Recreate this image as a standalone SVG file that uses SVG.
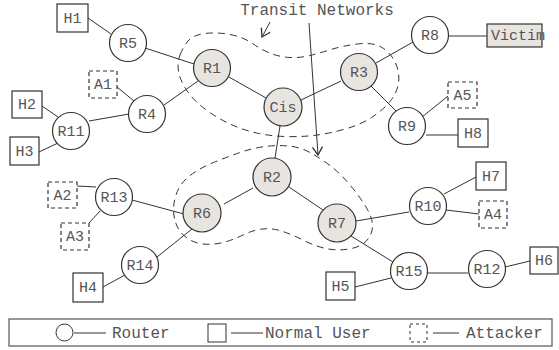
<svg xmlns="http://www.w3.org/2000/svg" width="559" height="350" viewBox="0 0 559 350">
<defs>
<style>
.r{fill:#fff;stroke:#333;stroke-width:1.2}
.t{fill:#e8e4e0;stroke:#333;stroke-width:1.2}
.h{fill:#fff;stroke:#333;stroke-width:1.2}
.a{fill:#fff;stroke:#333;stroke-width:1.2;stroke-dasharray:4,3}
.v{fill:#e8e4e0;stroke:#333;stroke-width:1.2}
.l{stroke:#333;stroke-width:1;fill:none}
.b{stroke:#333;stroke-width:1;fill:none;stroke-dasharray:7,5}
text{font-family:"Liberation Mono","Courier New",monospace;fill:#555;text-anchor:middle}
.n{font-size:15px}
.g{font-size:16px}
</style>
<marker id="ah" markerWidth="12" markerHeight="12" refX="10" refY="6" orient="auto" markerUnits="userSpaceOnUse">
<path d="M2,1 L10,6 L2,11" fill="none" stroke="#333" stroke-width="1.3"/>
</marker>
</defs>
<rect width="559" height="350" fill="#fff"/>
<g id="blobs">
<path class="b" d="M180,55 Q183,47 188,41 Q193,35 205,33.5 Q217,32 230,34.5 Q243,37 252.5,43.5 Q262,50 271,53.5 Q280,57 290,57.5 Q300,58 310,55.5 Q320,53 331,49.5 Q342,46 357.5,44 Q373,42 382,47.5 Q391,53 395.5,63 Q400,73 398.5,83 Q397,93 390,101.5 Q383,110 371.5,117.5 Q360,125 343.5,129.5 Q327,134 313.5,135.5 Q300,137 285,136.5 Q270,136 256.5,133 Q243,130 230,124 Q217,118 205,109 Q193,100 186.5,90 Q180,80 178.5,71.5 Q177,63 180,55 Z"/>
<path class="b" d="M174.5,218.5 Q172,207 176,195 Q180,183 190,175.5 Q200,168 213.5,162.5 Q227,157 240,152.5 Q253,148 265,146.5 Q277,145 288.5,146 Q300,147 310,152.5 Q320,158 330,165.5 Q340,173 350,185 Q360,197 366,207 Q372,217 372.5,224.5 Q373,232 368,239 Q363,246 351.5,248.5 Q340,251 328.5,249 Q317,247 305,241 Q293,235 283,231.5 Q273,228 263,229 Q253,230 243,235 Q233,240 223,242.5 Q213,245 203,244 Q193,243 185,236.5 Q177,230 174.5,218.5 Z"/>
</g>
<g id="title">
<text class="g" x="317" y="15">Transit Networks</text>
<line class="l" x1="270" y1="22" x2="262" y2="37" marker-end="url(#ah)"/>
<line class="l" x1="309" y1="23" x2="318" y2="155" marker-end="url(#ah)"/>
</g>
<g id="connectors">
<line class="l" x1="88" y1="18" x2="111" y2="34"/>
<line class="l" x1="145" y1="48" x2="194" y2="64"/>
<line class="l" x1="229" y1="77" x2="266" y2="98"/>
<line class="l" x1="117" y1="87" x2="134" y2="101"/>
<line class="l" x1="164" y1="105" x2="198" y2="81"/>
<line class="l" x1="89" y1="121" x2="129" y2="114"/>
<line class="l" x1="42" y1="106" x2="58" y2="117"/>
<line class="l" x1="39" y1="152" x2="58" y2="143"/>
<line class="l" x1="301" y1="100" x2="341" y2="81"/>
<line class="l" x1="376" y1="63" x2="413" y2="42"/>
<line class="l" x1="448" y1="36" x2="487" y2="36"/>
<line class="l" x1="371" y1="86" x2="397" y2="112"/>
<line class="l" x1="422" y1="117" x2="448" y2="96"/>
<line class="l" x1="426" y1="135" x2="458" y2="135"/>
<line class="l" x1="280" y1="126" x2="275" y2="158"/>
<line class="l" x1="253" y1="188" x2="224" y2="204"/>
<line class="l" x1="289" y1="187" x2="323" y2="210"/>
<line class="l" x1="77" y1="186" x2="96" y2="187"/>
<line class="l" x1="89" y1="223" x2="100" y2="211"/>
<line class="l" x1="132" y1="200" x2="184" y2="214"/>
<line class="l" x1="192" y1="229" x2="157" y2="257"/>
<line class="l" x1="125" y1="275" x2="103" y2="287"/>
<line class="l" x1="356" y1="221" x2="409" y2="212"/>
<line class="l" x1="444" y1="194" x2="476" y2="177"/>
<line class="l" x1="446" y1="210" x2="479" y2="214"/>
<line class="l" x1="351" y1="236" x2="393" y2="262"/>
<line class="l" x1="355" y1="287" x2="391" y2="278"/>
<line class="l" x1="427" y1="273" x2="468" y2="273"/>
<line class="l" x1="505" y1="267" x2="530" y2="261"/>
</g>
<g id="H1"><rect class="h" x="57" y="4" width="31" height="28"/><text class="n" x="72.5" y="23">H1</text></g>
<g id="R5"><circle class="r" cx="128" cy="43" r="18.5"/><text class="n" x="128" y="48">R5</text></g>
<g id="R1"><circle class="t" cx="212" cy="68" r="18.5"/><text class="n" x="212" y="73">R1</text></g>
<g id="A1"><rect class="a" x="89" y="71" width="28" height="27"/><text class="n" x="103" y="89">A1</text></g>
<g id="R4"><circle class="r" cx="147" cy="114" r="18.5"/><text class="n" x="147" y="119">R4</text></g>
<g id="H2"><rect class="h" x="12" y="91" width="30" height="27"/><text class="n" x="27" y="109">H2</text></g>
<g id="R11"><circle class="r" cx="71" cy="131" r="18.5"/><text class="n" x="71" y="136">R11</text></g>
<g id="H3"><rect class="h" x="10" y="137" width="29" height="28"/><text class="n" x="24.5" y="156">H3</text></g>
<g id="Cis"><circle class="t" cx="283" cy="107" r="19"/><text class="n" x="283" y="112">Cis</text></g>
<g id="R3"><circle class="t" cx="359" cy="72" r="18.5"/><text class="n" x="359" y="77">R3</text></g>
<g id="R8"><circle class="r" cx="430" cy="35" r="18.5"/><text class="n" x="430" y="40">R8</text></g>
<g id="Victim"><rect class="v" x="487" y="24" width="55" height="23"/><text class="n" x="518" y="40">Victim</text></g>
<g id="A5"><rect class="a" x="448" y="82" width="29" height="26"/><text class="n" x="462.5" y="100">A5</text></g>
<g id="R9"><circle class="r" cx="407" cy="126" r="18.5"/><text class="n" x="407" y="131">R9</text></g>
<g id="H8"><rect class="h" x="458" y="119" width="30" height="28"/><text class="n" x="473" y="138">H8</text></g>
<g id="R2"><circle class="t" cx="272" cy="177" r="19"/><text class="n" x="272" y="182">R2</text></g>
<g id="R6"><circle class="t" cx="202" cy="213" r="19"/><text class="n" x="202" y="218">R6</text></g>
<g id="R7"><circle class="t" cx="337" cy="223" r="19"/><text class="n" x="337" y="228">R7</text></g>
<g id="R13"><circle class="r" cx="114" cy="197" r="18.5"/><text class="n" x="114" y="202">R13</text></g>
<g id="A2"><rect class="a" x="48" y="182" width="29" height="26"/><text class="n" x="62.5" y="200">A2</text></g>
<g id="A3"><rect class="a" x="61" y="223" width="28" height="27"/><text class="n" x="75" y="241">A3</text></g>
<g id="R14"><circle class="r" cx="140" cy="265" r="18.5"/><text class="n" x="140" y="270">R14</text></g>
<g id="H4"><rect class="h" x="73" y="273" width="30" height="29"/><text class="n" x="88" y="292">H4</text></g>
<g id="H7"><rect class="h" x="476" y="162" width="30" height="28"/><text class="n" x="491" y="181">H7</text></g>
<g id="R10"><circle class="r" cx="428" cy="206" r="18.5"/><text class="n" x="428" y="211">R10</text></g>
<g id="A4"><rect class="a" x="479" y="201" width="28" height="27"/><text class="n" x="493" y="219">A4</text></g>
<g id="R15"><circle class="r" cx="409" cy="271" r="18.5"/><text class="n" x="409" y="276">R15</text></g>
<g id="R12"><circle class="r" cx="487" cy="269" r="18.5"/><text class="n" x="487" y="274">R12</text></g>
<g id="H6"><rect class="h" x="530" y="247" width="28" height="27"/><text class="n" x="544" y="265">H6</text></g>
<g id="H5"><rect class="h" x="326" y="272" width="29" height="28"/><text class="n" x="340.5" y="291">H5</text></g>
<g id="legend">
<rect x="9" y="319" width="543" height="27" fill="none" stroke="#555" stroke-width="1.2"/>
<circle cx="64.5" cy="332.5" r="8.5" fill="none" stroke="#333" stroke-width="1"/>
<line class="l" x1="74" y1="333" x2="106" y2="333"/>
<text class="g" x="112" y="338" style="text-anchor:start">Router</text>
<rect x="208" y="324" width="18" height="18" fill="none" stroke="#333" stroke-width="1"/>
<line class="l" x1="231" y1="333" x2="263" y2="333"/>
<text class="g" x="265" y="338" style="text-anchor:start">Normal User</text>
<rect x="410" y="324" width="17" height="18" fill="none" stroke="#333" stroke-width="1" stroke-dasharray="3,3"/>
<line class="l" x1="433" y1="333" x2="459" y2="333"/>
<text class="g" x="466" y="338" style="text-anchor:start">Attacker</text>
</g>
</svg>
